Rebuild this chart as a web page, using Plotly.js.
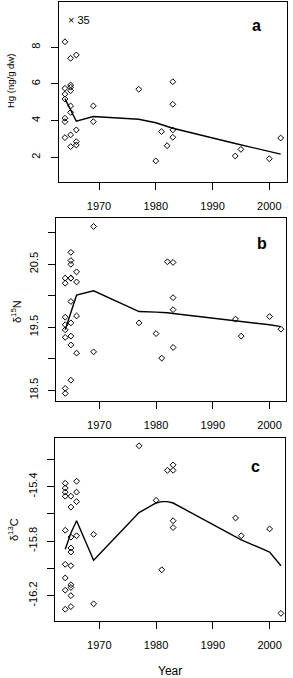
<!DOCTYPE html>
<html>
<head>
<meta charset="utf-8">
<script src="https://cdn.plot.ly/plotly-3.0.1.min.js"></script>
<style>html,body{margin:0;padding:0;background:#fff;}#chart{width:293px;height:678px;}</style>
</head>
<body>
<div id="chart"></div>
<script>
// ---- data ----
var hgYears = [1964,1964,1964,1964,1964,1964,1964,
               1965,1965,1965,1965,1965,1965,1965,1965,
               1966,1966,1966,1966,
               1969,1969,1977,1980,1981,1982,
               1983,1983,1983,1983,1994,1995,2000,2002];
var hgValues = [8.3,5.76,5.44,5.18,4.13,3.94,3.07,
                7.4,5.94,5.82,5.63,4.8,4.45,3.22,2.58,
                7.58,3.49,2.85,2.67,
                4.8,3.94,5.71,1.8,3.4,2.63,
                6.12,4.89,3.49,3.09,2.07,2.43,1.92,3.05];
var hgOffscaleNote = "\u00d7 35";

var n15Years = [1964,1964,1964,1964,1964,1964,1964,1964,
                1965,1965,1965,1965,1965,1965,1965,1965,1965,1965,
                1966,1966,1966,1966,
                1969,1969,1977,1980,1981,1982,
                1983,1983,1983,1983,1994,1995,2000,2002];
var n15Values = [20.28,20.2,19.66,19.54,19.46,19.34,18.53,18.45,
                 20.69,20.56,20.5,20.28,20.28,19.91,19.57,19.36,19.22,18.66,
                 20.38,20.22,19.68,19.09,
                 21.1,19.11,19.57,19.4,19.01,20.54,
                 20.53,19.97,19.78,19.18,19.63,19.36,19.67,19.47];

var c13Years = [1964,1964,1964,1964,1964,1964,1964,1964,1964,
                1965,1965,1965,1965,1965,1965,1965,1965,1965,1965,
                1966,1966,1966,1966,
                1969,1969,1977,1980,1981,1982,
                1983,1983,1983,1983,1994,1995,2000,2002];
var c13Values = [-15.375,-15.41,-15.44,-15.47,-15.72,-15.97,-16.07,-16.16,-16.30,
                 -15.47,-15.55,-15.77,-15.85,-15.88,-15.98,-16.12,-16.14,-16.20,-16.28,
                 -15.36,-15.44,-15.51,-15.76,
                 -15.75,-16.26,-15.10,-15.50,-16.01,-15.28,
                 -15.24,-15.28,-15.65,-15.70,-15.63,-15.76,-15.71,-16.33];

var fitYears = [1964,1965,1966,1969,1977,1980,1981,1982,1983,1994,1995,2000,2002];
var hgFit  = [5.2,4.58,3.97,4.22,4.07,3.88,3.78,3.68,3.58,2.75,2.68,2.33,2.17];
var n15Fit = [19.46,19.74,20.01,20.08,19.75,19.74,19.74,19.73,19.72,19.61,19.6,19.54,19.51];
var c13Fit = [-15.86,-15.74,-15.65,-15.94,-15.59,-15.52,-15.51,-15.51,-15.52,-15.77,-15.79,-15.88,-15.98];

var xTickVals = [1970,1980,1990,2000];
var xTickText = ["1970","1980","1990","2000"];
var hgTickVals = [2,4,6,8];
var hgTickText = ["2","4","6","8"];
var hgMinorTicks = [];
var n15TickVals = [18.5,19.5,20.5];
var n15TickText = ["18.5","19.5","20.5"];
var n15MinorTicks = [19.0,20.0,21.0];
var c13TickVals = [-16.2,-15.8,-15.4];
var c13TickText = ["-16.2","-15.8","-15.4"];
var c13MinorTicks = [-16.0,-15.6,-15.2];

var panelLabels = ["a","b","c"];
var yTitles = ["Hg (ng/g dw)","\u03b4<sup>15</sup>N","\u03b4<sup>13</sup>C"];
var xTitle = "Year";

// ---- layout helpers ----
var W = 293, H = 678;
function fx(p){ return p / W; }
function fy(p){ return 1 - p / H; }
var FONT = "Liberation Sans, Arial, sans-serif";

function pts(x, y, xa, ya){
  return {x:x, y:y, xaxis:xa, yaxis:ya, type:"scatter", mode:"markers",
    marker:{symbol:"diamond-open", size:4.5, color:"#000", line:{width:1, color:"#000"}},
    hoverinfo:"skip", cliponaxis:false};
}
function fit(y, xa, ya){
  return {x:fitYears, y:y, xaxis:xa, yaxis:ya, type:"scatter", mode:"lines",
    line:{color:"#000", width:1.4}, hoverinfo:"skip"};
}

var data = [
  pts(hgYears, hgValues, "x", "y"), fit(hgFit, "x", "y"),
  pts(n15Years, n15Values, "x2", "y2"), fit(n15Fit, "x2", "y2"),
  pts(c13Years, c13Values, "x3", "y3"), fit(c13Fit, "x3", "y3")
];

function xax(d0, d1, r0, r1, anchor){
  return {domain:[fx(d0), fx(d1)], range:[r0, r1], anchor:anchor,
    tickmode:"array", tickvals:xTickVals, ticktext:xTickText,
    ticks:"outside", ticklen:7, tickwidth:1, tickcolor:"#000",
    ticklabelstandoff:7,
    showline:true, mirror:true, linecolor:"#000", linewidth:1,
    showgrid:false, zeroline:false, tickfont:{family:FONT, size:11, color:"#000"}};
}
function yax(p0, p1, r0, r1, anchor, tv, tt, minor){
  return {domain:[fy(p1), fy(p0)], range:[r0, r1], anchor:anchor,
    tickmode:"array", tickvals:tv, ticktext:tt, tickangle:-90,
    ticks:"outside", ticklen:7, tickwidth:1, tickcolor:"#000",
    minor:{tickmode:"array", tickvals:minor, ticks:"outside", ticklen:7, tickwidth:1, tickcolor:"#000", showgrid:false},
    ticklabelstandoff:6,
    showline:true, mirror:true, linecolor:"#000", linewidth:1,
    showgrid:false, zeroline:false, tickfont:{family:FONT, size:11, color:"#000"}};
}

var x3 = xax(55.3, 285, 1962.25, 2002.71, "y3");
x3.title = {text:xTitle, font:{family:FONT, size:12, color:"#000"}, standoff:18};

function label(px, py, txt, size, bold){
  return {xref:"paper", yref:"paper", x:fx(px), y:fy(py), text: bold ? "<b>"+txt+"</b>" : txt,
    showarrow:false, font:{family:FONT, size:size, color:"#000"}, xanchor:"center", yanchor:"middle"};
}
function ytitle(px, py, txt, size){
  var a = label(px, py, txt, size, false);
  a.textangle = -90;
  return a;
}

var layout = {
  width:W, height:H, margin:{l:0, r:0, t:0, b:0},
  paper_bgcolor:"#fff", plot_bgcolor:"#fff", showlegend:false,
  xaxis: xax(58.7, 287.3, 1962.9, 2003.17, "y"),
  yaxis: yax(2, 182, 0.65, 10.47, "x", hgTickVals, hgTickText, hgMinorTicks),
  xaxis2: xax(56.3, 286, 1962.43, 2002.89, "y2"),
  yaxis2: yax(218.3, 401, 18.33, 21.23, "x2", n15TickVals, n15TickText, n15MinorTicks),
  xaxis3: x3,
  yaxis3: yax(438.3, 621, -16.386, -15.045, "x3", c13TickVals, c13TickText, c13MinorTicks),
  annotations:[
    label(256, 26, panelLabels[0], 16, true),
    label(262, 243, panelLabels[1], 16, true),
    label(255, 466, panelLabels[2], 16, true),
    label(79, 20, hgOffscaleNote, 11, false),
    ytitle(11, 81, yTitles[0], 9.5),
    ytitle(16, 312, yTitles[1], 11),
    ytitle(13, 530, yTitles[2], 11)
  ]
};

Plotly.newPlot("chart", data, layout, {staticPlot:true, displayModeBar:false});
</script>
</body>
</html>
